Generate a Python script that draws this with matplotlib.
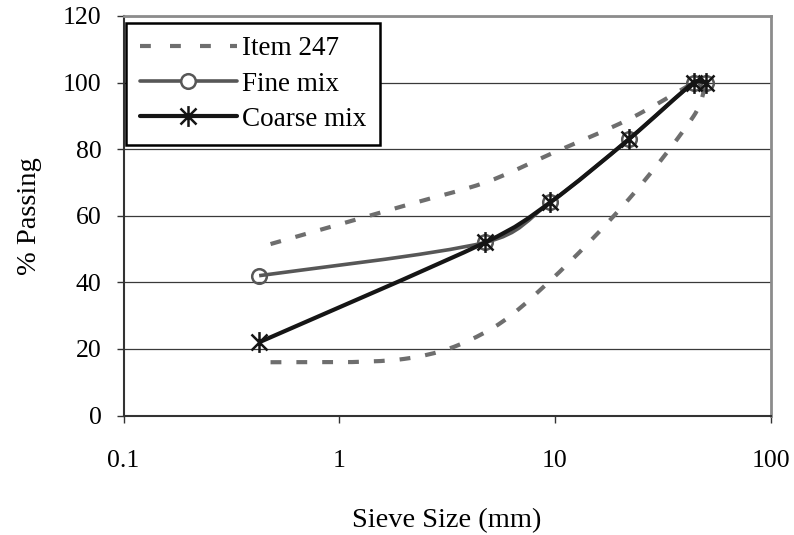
import numpy as np
import matplotlib
matplotlib.use("Agg")
import matplotlib.pyplot as plt
from matplotlib.path import Path
from matplotlib.patches import PathPatch
from matplotlib.lines import Line2D

plt.rcParams['font.family'] = ['Liberation Serif', 'DejaVu Serif']

# Sieve sizes (mm) and % passing
mix_size = [0.425, 4.75, 9.5, 22, 44, 50]
fine_mix = [42, 52, 64, 83, 100, 100]
coarse_mix = [22, 52, 64, 83, 100, 100]

# Item 247 band (upper and lower limits)
upper_size = [0.48, 2.0, 4.75, 9.5, 22, 44]
upper_pass = [51.5, 63, 70, 78.5, 89, 100]
lower_size = [0.48, 2.0, 4.75, 9.5, 22, 44, 50]
lower_pass = [16, 17, 25, 40.5, 65, 90, 100]

x_ticks = [0.1, 1, 10, 100]
x_tick_labels = ['0.1', '1', '10', '100']
y_ticks = [0, 20, 40, 60, 80, 100, 120]

c_band = '#6e6e6e'
c_fine = '#575757'
c_coarse = '#151515'


def smooth_path(ax, xs, ys):
    # Excel-like smoothed line: Catmull-Rom segments drawn as cubic Beziers
    pts = ax.transData.transform(np.column_stack([xs, ys]))
    n = len(pts)
    verts = [pts[0]]
    codes = [Path.MOVETO]
    for i in range(n - 1):
        p0 = pts[max(i - 1, 0)]
        p1 = pts[i]
        p2 = pts[i + 1]
        p3 = pts[min(i + 2, n - 1)]
        d12 = np.hypot(*(p2 - p1))
        t1 = (p2 - p0) / 6.0
        t2 = (p3 - p1) / 6.0
        for t in (t1, t2):
            ln = np.hypot(*t)
            if ln > d12 / 2:
                t *= (d12 / 2) / ln
        verts += [p1 + t1, p2 - t2, p2]
        codes += [Path.CURVE4] * 3
    verts = ax.transData.inverted().transform(np.array(verts))
    return Path(verts, codes)


fig = plt.figure(figsize=(7.94, 5.35), dpi=100)
ax = fig.add_axes([123.6 / 794, 1 - 415.5 / 535, (770.7 - 123.6) / 794, (415.5 - 16) / 535])
ax.set_xscale('log')
ax.set_xlim(0.1, 100)
ax.set_ylim(0, 120)

ax.set_xticks(x_ticks)
ax.set_xticklabels(x_tick_labels)
ax.xaxis.set_minor_locator(matplotlib.ticker.NullLocator())
ax.set_yticks(y_ticks)
ax.yaxis.grid(True, color='#3a3a3a', lw=0.9)
ax.set_axisbelow(True)

ax.tick_params(axis='both', direction='out', length=5, width=1, color='#333333', labelsize=18.5)
ax.tick_params(axis='x', pad=20)
ax.tick_params(axis='y', pad=11)

for s in ['left', 'bottom']:
    ax.spines[s].set_color('#333333')
    ax.spines[s].set_linewidth(1.5)
for s in ['top', 'right']:
    ax.spines[s].set_color('#8c8c8c')
    ax.spines[s].set_linewidth(2)

dash = (0, (2.6, 3.6))
band_lw = 3.0
for xs, ys in [(upper_size, upper_pass), (lower_size, lower_pass)]:
    ax.add_patch(PathPatch(smooth_path(ax, xs, ys), facecolor='none', edgecolor=c_band,
                           lw=band_lw, linestyle=dash, capstyle='butt', zorder=3))

ax.add_patch(PathPatch(smooth_path(ax, mix_size, fine_mix), facecolor='none',
                       edgecolor=c_fine, lw=2.6, zorder=4))
ax.plot(mix_size, fine_mix, ls='none', marker='o', ms=10.5, mfc='none',
        mec=c_fine, mew=1.8, zorder=5)

star = Path([(-1, -1), (1, 1), (-1, 1), (1, -1), (0, -1.3), (0, 1.3)],
            [Path.MOVETO, Path.LINETO] * 3)
ax.add_patch(PathPatch(smooth_path(ax, mix_size, coarse_mix), facecolor='none',
                       edgecolor=c_coarse, lw=3.0, zorder=6))
ax.plot(mix_size, coarse_mix, ls='none', marker=star, ms=15, mec=c_coarse,
        mew=1.8, zorder=7)

ax.set_xlabel('Sieve Size (mm)', fontsize=20.5, va='center')
ax.xaxis.set_label_coords(0.5, -0.263)
ax.set_ylabel('% Passing', fontsize=20.5, va='center')
ax.yaxis.set_label_coords(-0.146, 0.5)

handles = [
    Line2D([], [], color=c_band, lw=band_lw, linestyle=(0, (2.6, 4.6)), dash_capstyle='butt'),
    Line2D([], [], color=c_fine, lw=2.6, marker='o', ms=10.5, mfc='white',
           mec=c_fine, mew=1.8, solid_capstyle='round'),
    Line2D([], [], color=c_coarse, lw=3.0, marker=star, ms=15, mec=c_coarse,
           mew=1.8, solid_capstyle='round'),
]
leg = ax.legend(handles, ['Item 247', 'Fine mix', 'Coarse mix'],
                loc='upper left', bbox_to_anchor=(126 / 794, 1 - 22.7 / 535),
                bbox_transform=fig.transFigure, borderaxespad=0,
                fontsize=19.5, numpoints=1, handlelength=3.6, handletextpad=0.2,
                borderpad=0.5, labelspacing=0.38, fancybox=False, framealpha=1)
leg.get_frame().set_edgecolor('black')
leg.get_frame().set_linewidth(1.8)
leg.set_zorder(10)

fig.savefig('out.png', dpi=100)
